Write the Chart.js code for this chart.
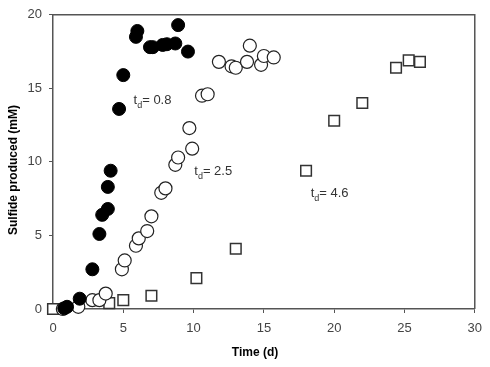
<!DOCTYPE html>
<html lang="en">
<head>
    <meta charset="UTF-8">
    <title>Sulfide production</title>
    <script src="https://cdn.jsdelivr.net/npm/chart.js@4"></script>
    <style>
        html, body { margin: 0; padding: 0; background: #fff; }
        .chart-container { width: 490px; height: 367px; position: relative; }
    </style>
</head>
<body>
<div class="chart-container">
    <canvas id="sulfideChart"></canvas>
</div>

<script>
    // td = 0.8 (filled circles)
    const fastTime = [0.8, 1.0, 1.9, 2.8, 3.3, 3.5, 3.9, 3.9, 4.1, 4.7, 5.0, 5.9, 6.0, 6.9, 7.1, 7.8, 8.1, 8.7, 8.9, 9.6];
    const fastSulfide = [0.05, 0.15, 0.7, 2.7, 5.1, 6.4, 6.8, 8.3, 9.4, 13.6, 15.9, 18.5, 18.9, 17.8, 17.8, 17.95, 18.0, 18.05, 19.3, 17.5];

    // td = 2.5 (open circles)
    const midTime = [0.7, 1.8, 2.8, 3.3, 3.75, 4.9, 5.1, 5.9, 6.1, 6.7, 7.0, 7.7, 8.0, 8.7, 8.9, 9.7, 9.9, 10.6, 11.0, 11.8, 12.7, 13.0, 13.8, 14.0, 14.8, 15.0, 15.7];
    const midSulfide = [0, 0.15, 0.6, 0.6, 1.05, 2.7, 3.3, 4.3, 4.8, 5.3, 6.3, 7.9, 8.2, 9.8, 10.3, 12.3, 10.9, 14.5, 14.6, 16.8, 16.5, 16.4, 16.8, 17.9, 16.6, 17.2, 17.1];

    // td = 4.6 (open squares)
    const slowTime = [0, 4.0, 5.0, 7.0, 10.2, 13.0, 18.0, 20.0, 22.0, 24.4, 25.3, 26.1];
    const slowSulfide = [0, 0.4, 0.6, 0.9, 2.1, 4.1, 9.4, 12.8, 14.0, 16.4, 16.9, 16.8];

    const labelText = ['0.8', '2.5', '4.6'];
    const labelTime = [5.73, 10.05, 18.33];
    const labelSulfide = [14.2, 9.36, 7.83];

    const xTitle = 'Time (d)';
    const yTitle = 'Sulfide produced (mM)';

    const toPoints = (xs, ys) => xs.map((x, i) => ({ x: x, y: ys[i] }));

    const font = '"Liberation Sans", Arial, sans-serif';

    // frame on top/right, axis titles, td labels with subscript
    const extras = {
        id: 'extras',
        afterDraw(chart) {
            const ctx = chart.ctx;
            const a = chart.chartArea;
            ctx.save();
            ctx.strokeStyle = '#555';
            ctx.lineWidth = 1.5;
            ctx.beginPath();
            ctx.moveTo(a.left, a.top);
            ctx.lineTo(a.right, a.top);
            ctx.lineTo(a.right, a.bottom);
            ctx.stroke();

            // axis titles
            ctx.fillStyle = '#000';
            ctx.font = 'bold 12px ' + font;
            ctx.textAlign = 'center';
            ctx.textBaseline = 'middle';
            ctx.fillText(xTitle, 255, 353);
            ctx.translate(14, 170);
            ctx.rotate(-Math.PI / 2);
            ctx.fillText(yTitle, 0, 0);
            ctx.setTransform(1, 0, 0, 1, 0, 0);

            const xs = chart.scales.x, ys = chart.scales.y;
            ctx.fillStyle = '#333';
            ctx.textAlign = 'left';
            labelText.forEach((t, i) => {
                let px = xs.getPixelForValue(labelTime[i]);
                const py = ys.getPixelForValue(labelSulfide[i]);
                ctx.font = '13px ' + font;
                ctx.fillText('t', px, py);
                px += ctx.measureText('t').width;
                ctx.font = '9px ' + font;
                ctx.fillText('d', px, py + 5);
                px += ctx.measureText('d').width;
                ctx.font = '13px ' + font;
                ctx.fillText('= ' + t, px, py);
            });
            ctx.restore();
        }
    };

    new Chart(document.getElementById('sulfideChart'), {
        type: 'scatter',
        data: {
            datasets: [{
                label: 'td 0.8',
                data: toPoints(fastTime, fastSulfide),
                pointStyle: 'circle',
                pointRadius: 6.5,
                backgroundColor: '#000',
                borderColor: '#000',
                borderWidth: 1,
                clip: false
            }, {
                label: 'td 2.5',
                data: toPoints(midTime, midSulfide),
                pointStyle: 'circle',
                pointRadius: 6.5,
                backgroundColor: '#fff',
                borderColor: '#222',
                borderWidth: 1.2,
                clip: false
            }, {
                label: 'td 4.6',
                data: toPoints(slowTime, slowSulfide),
                pointStyle: 'rect',
                pointRadius: 7.5,
                backgroundColor: '#fff',
                borderColor: '#333',
                borderWidth: 1.5,
                clip: false
            }]
        },
        options: {
            responsive: true,
            maintainAspectRatio: false,
            animation: false,
            layout: { padding: { top: 10, right: 13, left: 0, bottom: 0 } },
            plugins: { legend: { display: false }, tooltip: { enabled: false } },
            scales: {
                x: {
                    type: 'linear',
                    min: 0, max: 30,
                    afterFit(scale) { scale.height = 58; },
                    border: { display: true, color: '#555', width: 1.5 },
                    grid: { drawOnChartArea: false, drawTicks: true, tickLength: 4, color: '#555' },
                    ticks: { stepSize: 5, padding: 8, color: '#444', font: { family: font, size: 13 } }
                },
                y: {
                    min: 0, max: 20,
                    afterFit(scale) { scale.width = 53; },
                    border: { display: true, color: '#555', width: 1.5 },
                    grid: { drawOnChartArea: false, drawTicks: true, tickLength: 4, color: '#555' },
                    ticks: { stepSize: 5, padding: 7, color: '#444', font: { family: font, size: 13 } }
                }
            }
        },
        plugins: [extras]
    });
</script>
</body>
</html>
